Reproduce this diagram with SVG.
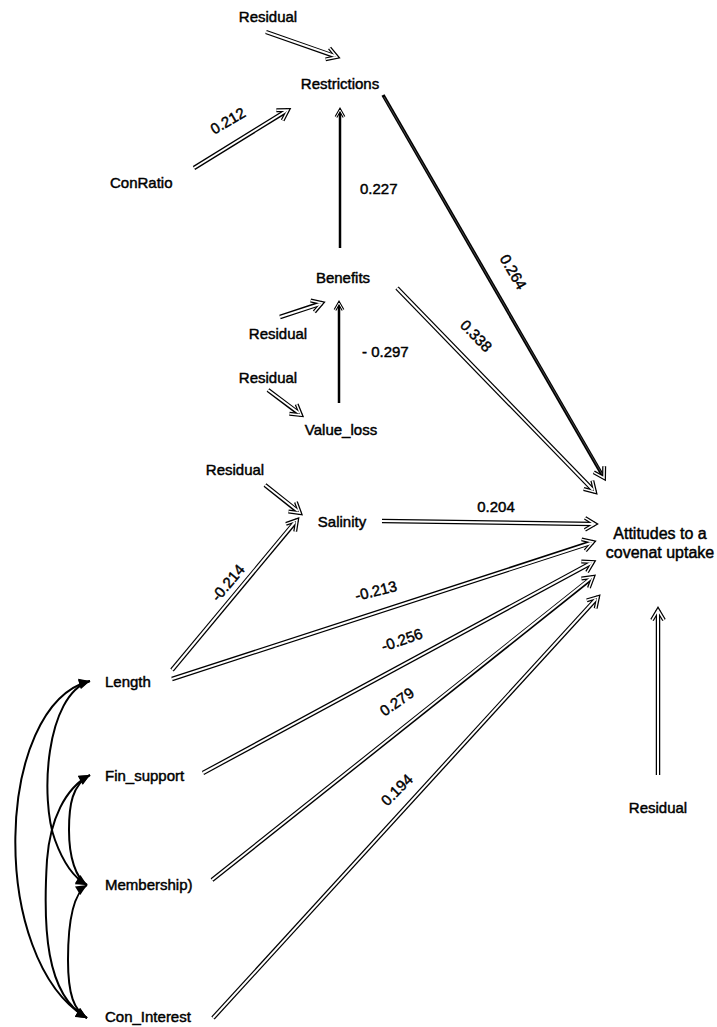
<svg xmlns="http://www.w3.org/2000/svg" width="717" height="1027" viewBox="0 0 717 1027">
<style>
text{font-family:"Liberation Sans",Arial,sans-serif;font-size:15px;fill:#000;stroke:#000;stroke-width:0.45}
.m{text-anchor:middle}
.o{fill:none;stroke:#000;stroke-width:4.5;marker-end:url(#hd)}
.i{fill:none;stroke:#fff;stroke-width:2}
.s{fill:none;stroke:#000;stroke-width:2.5;marker-end:url(#hs)}
.c{fill:none;stroke:#000;stroke-width:2;marker-start:url(#fh);marker-end:url(#fh)}
</style>
<defs>
<marker id="hd" markerUnits="userSpaceOnUse" viewBox="-14 -10 18 20" refX="0" refY="0" markerWidth="18" markerHeight="20" orient="auto" overflow="visible">
<path d="M-10,-6 L0,0 L-10,6" fill="none" stroke="#000" stroke-width="4"/>
<path d="M-10,-6 L0,0 L-10,6" fill="none" stroke="#fff" stroke-width="1.5"/>
</marker>
<marker id="hs" markerUnits="userSpaceOnUse" viewBox="-10 -8 14 16" refX="0" refY="0" markerWidth="14" markerHeight="16" orient="auto" overflow="visible">
<path d="M-7,-4 L0,0 L-7,4" fill="none" stroke="#000" stroke-width="3"/>
<path d="M-7,-4 L0,0 L-7,4" fill="none" stroke="#fff" stroke-width="1"/>
</marker>
<marker id="fh" markerUnits="userSpaceOnUse" viewBox="-12 -7 14 14" refX="0" refY="0" markerWidth="14" markerHeight="14" orient="auto-start-reverse" overflow="visible">
<path d="M-11,-5 L0,0 L-11,5 Z" fill="#000"/>
</marker>
</defs>
<rect width="717" height="1027" fill="#fff"/>
<g id="connectors">
<path class="o" d="M266,32 L337,57"/><path class="i" d="M266,32 L335,56"/>
<path class="o" d="M194,168 L288,110"/><path class="i" d="M194,168 L286,111"/>
<path class="s" d="M340,248 L340,110"/>
<path class="o" d="M383,95 L604,478" style="stroke-width:3.5"/><path d="M384,97 L602,474" fill="none" stroke="#555" stroke-width="0.8"/>
<path class="o" d="M397,288 L595,492"/><path class="i" d="M397,288 L593,490"/>
<path class="o" d="M280,317 L322,303"/><path class="i" d="M280,317 L320,304"/>
<path class="s" d="M339,403 L339,303"/>
<path class="o" d="M268,390 L301,415"/><path class="i" d="M268,390 L299,413"/>
<path class="o" d="M265,485 L300,513"/><path class="i" d="M265,485 L298,511"/>
<path class="o" d="M172,670 L297,520"/><path class="i" d="M172,670 L295,522"/>
<path class="o" d="M382,521 L595,524"/><path class="i" d="M382,521 L593,524"/>
<path class="o" d="M172,679 L593,542"/><path class="i" d="M172,679 L591,543"/>
<path class="o" d="M203,773 L593,562"/><path class="i" d="M203,773 L591,563"/>
<path class="o" d="M212,880 L593,577"/><path class="i" d="M212,880 L591,578"/>
<path class="o" d="M213,1018 L598,597"/><path class="i" d="M213,1018 L596,599"/>
<path class="o" d="M658,775 L658,610"/><path class="i" d="M658,775 L658,612"/>
<path class="c" d="M90,681 C-6,705 -12,960 87,1018"/>
<path class="c" d="M90,681 C45,695 40,800 55,840 C63,862 74,878 87,885"/>
<path class="c" d="M90,775 C65,788 50,820 47,860 C43,925 45,995 87,1018"/>
<path class="c" d="M90,775 C72,785 69,805 69,830 C69,858 76,878 87,885"/>
<path class="c" d="M87,885 C74,893 68,920 68,960 C68,995 74,1010 87,1018"/>
</g>
<g id="labels">
<text transform="translate(228,121) rotate(-30)" class="m" y="5">0.212</text>
<text x="360" y="194">0.227</text>
<text x="362" y="357">- 0.297</text>
<text transform="translate(513,272) rotate(60)" class="m" y="5">0.264</text>
<text transform="translate(476,336) rotate(46)" class="m" y="5">0.338</text>
<text x="496" y="512" class="m">0.204</text>
<text transform="translate(228,583) rotate(-50)" class="m" y="5">-0.214</text>
<text transform="translate(376,591) rotate(-14)" class="m" y="5">-0.213</text>
<text transform="translate(402,640) rotate(-19)" class="m" y="5">-0.256</text>
<text transform="translate(397,702) rotate(-35)" class="m" y="5">0.279</text>
<text transform="translate(397,790) rotate(-45)" class="m" y="5">0.194</text>
</g>
<g id="res1"><text x="268" y="22" class="m">Residual</text></g>
<g id="restrictions"><text x="340" y="89" class="m">Restrictions</text></g>
<g id="conratio"><text x="110" y="188">ConRatio</text></g>
<g id="benefits"><text x="343" y="283" class="m">Benefits</text></g>
<g id="res2"><text x="278" y="339" class="m">Residual</text></g>
<g id="res3"><text x="268" y="383" class="m">Residual</text></g>
<g id="valueloss"><text x="341" y="435" class="m">Value_loss</text></g>
<g id="res4"><text x="235" y="475" class="m">Residual</text></g>
<g id="salinity"><text x="342" y="527" class="m">Salinity</text></g>
<g id="attitudes"><text x="660" y="539" class="m" style="font-size:16px">Attitudes to a</text><text x="660" y="558" class="m" style="font-size:16px">covenat uptake</text></g>
<g id="res5"><text x="658" y="813" class="m">Residual</text></g>
<g id="length"><text x="105" y="687">Length</text></g>
<g id="finsupport"><text x="105" y="781">Fin_support</text></g>
<g id="membership"><text x="105" y="890">Membership)</text></g>
<g id="coninterest"><text x="105" y="1022">Con_Interest</text></g>
</svg>
